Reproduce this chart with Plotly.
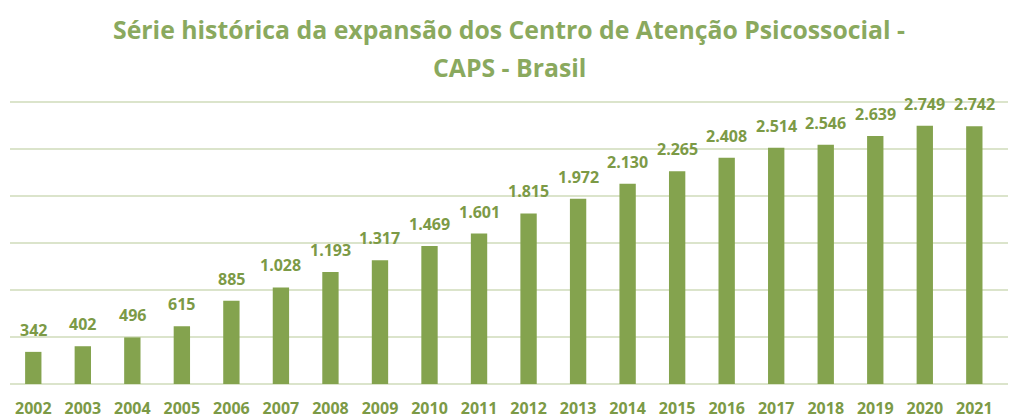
import plotly.graph_objects as go

years = [str(y) for y in range(2002, 2022)]
caps = [342, 402, 496, 615, 885, 1028, 1193, 1317, 1469, 1601, 1815, 1972,
        2130, 2265, 2408, 2514, 2546, 2639, 2749, 2742]
title_lines = ["Série histórica da expansão dos Centro de Atenção Psicossocial -",
               "CAPS - Brasil"]

bar_color = "#84a34e"
text_color = "#7c9a46"
title_color = "#8aa95e"
grid_color = "#dbe4cb"

fig = go.Figure(go.Bar(
    x=list(range(len(years))), y=caps,
    marker=dict(color=bar_color, line=dict(width=0)),
    width=0.33,
    hoverinfo="skip",
))

for i, v in enumerate(caps):
    fig.add_annotation(x=i, y=v, text=f"{v:,}".replace(",", "."),
                       xref="x", yref="y", yanchor="bottom", yshift=9,
                       showarrow=False,
                       font=dict(family="Open Sans", size=16, color=text_color, weight="bold"))

for i, line in enumerate(title_lines):
    fig.add_annotation(text=line, xref="paper", yref="paper",
                       x=0.5, y=[1.255, 1.12][i], xanchor="center", yanchor="middle",
                       showarrow=False,
                       font=dict(family="Open Sans", size=24.8, color=title_color, weight="bold"))

fig.update_layout(
    width=1011, height=418,
    margin=dict(l=10, r=3, t=101, b=34),
    paper_bgcolor="white", plot_bgcolor="white",
    showlegend=False,
    xaxis=dict(range=[-0.47, 19.68], tickvals=list(range(len(years))), ticktext=years,
               showgrid=False, zeroline=False, showline=False, ticks="",
               ticklabelstandoff=13, automargin=False,
               tickfont=dict(family="Open Sans", size=16, color=text_color, weight="bold")),
    yaxis=dict(range=[0, 3012], tickvals=[0, 500, 1000, 1500, 2000, 2500, 3000],
               showticklabels=False, automargin=False,
               showgrid=True, gridcolor=grid_color, gridwidth=2,
               zeroline=True, zerolinecolor=grid_color, zerolinewidth=2),
)

fig.write_html("out.html", config={"displayModeBar": False},
               post_script="document.body.style.margin='0';document.body.style.overflow='hidden';")
